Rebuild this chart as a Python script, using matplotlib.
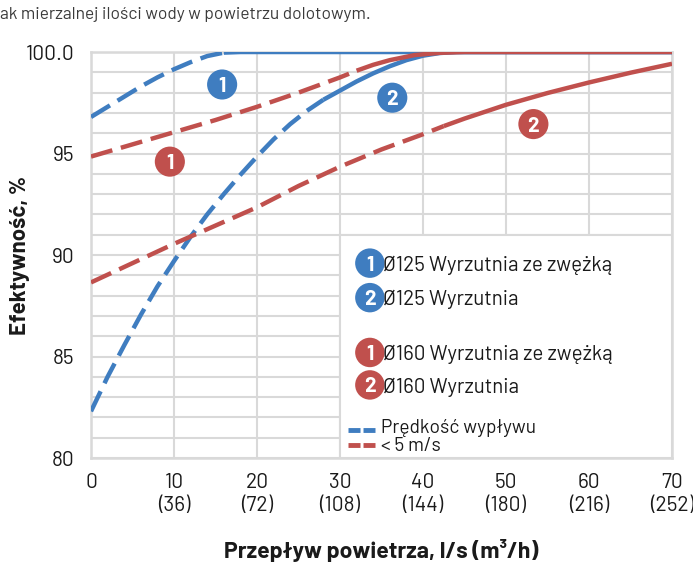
import matplotlib.pyplot as plt
from matplotlib.patches import Rectangle
from matplotlib.ticker import MultipleLocator

plt.rcParams['font.family'] = ['Barlow', 'DejaVu Sans']
plt.rcParams['font.stretch'] = 'condensed'

BLUE = '#3F7DC0'
RED = '#C0504D'
GRID = '#D9D9D9'
INK = '#1a1a1a'

# Ø125 Wyrzutnia ze zwężką (1, niebieska)
b1_dash_x = [0, 2, 4, 6, 8, 10, 12, 14, 16]
b1_dash_y = [96.8, 97.3, 97.8, 98.3, 98.75, 99.15, 99.5, 99.8, 99.97]
b1_solid_x = [16, 18, 70]
b1_solid_y = [99.97, 100, 100]

# Ø125 Wyrzutnia (2, niebieska)
b2_dash_x = [0, 2, 4, 6, 8, 10, 12, 14, 16, 18, 20, 22, 24, 26, 28]
b2_dash_y = [82.3, 84.0, 85.55, 87.05, 88.45, 89.7, 90.9, 92.0, 93.0, 93.95,
             94.85, 95.7, 96.45, 97.1, 97.65]
b2_solid_x = [28, 30, 32, 34, 36, 38, 40, 42, 44, 70]
b2_solid_y = [97.65, 98.1, 98.55, 98.95, 99.3, 99.6, 99.82, 99.95, 100, 100]

# Ø160 Wyrzutnia ze zwężką (1, czerwona)
r1_dash_x = [0, 5, 10, 15, 20, 25, 30, 32]
r1_dash_y = [94.85, 95.45, 96.05, 96.65, 97.3, 98.0, 98.75, 99.08]
r1_solid_x = [32, 34, 36, 39, 42, 45, 70]
r1_solid_y = [99.08, 99.37, 99.6, 99.85, 99.96, 100, 100]

# Ø160 Wyrzutnia (2, czerwona)
r2_dash_x = [0, 5, 10, 15, 20, 25, 30, 35, 40, 42.5]
r2_dash_y = [88.65, 89.6, 90.55, 91.45, 92.35, 93.4, 94.35, 95.2, 95.95, 96.35]
r2_solid_x = [42.5, 45, 50, 55, 60, 65, 70]
r2_solid_y = [96.35, 96.72, 97.4, 97.98, 98.5, 98.98, 99.42]

# numbered circles on curves: (x, y, label, colour)
badges = [(15.8, 98.4, '1', BLUE), (36.3, 97.75, '2', BLUE),
          (9.5, 94.6, '1', RED), (53.3, 96.45, '2', RED)]

x_ticks = [0, 10, 20, 30, 40, 50, 60, 70]
x_labels = ['0', '10\n(36)', '20\n(72)', '30\n(108)', '40\n(144)',
            '50\n(180)', '60\n(216)', '70\n(252)']
y_ticks = [80, 85, 90, 95, 100]
y_labels = ['80', '85', '90', '95', '100.0']

legend_items = [(89.6, '1', BLUE, 'Ø125 Wyrzutnia ze zwężką'),
                (87.9, '2', BLUE, 'Ø125 Wyrzutnia'),
                (85.2, '1', RED, 'Ø160 Wyrzutnia ze zwężką'),
                (83.6, '2', RED, 'Ø160 Wyrzutnia')]

fig = plt.figure(figsize=(6.93, 5.63), dpi=100)
ax = fig.add_axes([0.1313, 0.1865, 0.8384, 0.7211])

dash = (0, (5, 2))
lw = 3.2
for xs, ys, c in [(b1_dash_x, b1_dash_y, BLUE), (b2_dash_x, b2_dash_y, BLUE),
                  (r1_dash_x, r1_dash_y, RED), (r2_dash_x, r2_dash_y, RED)]:
    ax.plot(xs, ys, color=c, lw=lw, linestyle=dash, zorder=3)
for xs, ys, c in [(b1_solid_x, b1_solid_y, BLUE), (b2_solid_x, b2_solid_y, BLUE),
                  (r1_solid_x, r1_solid_y, RED), (r2_solid_x, r2_solid_y, RED)]:
    ax.plot(xs, ys, color=c, lw=lw, solid_capstyle='butt', zorder=3)

for x, y, t, c in badges:
    ax.scatter([x], [y], s=470, color=c, zorder=4, edgecolors='none')
    ax.text(x, y, t, color='white', fontsize=15, fontweight='bold',
            ha='center', va='center_baseline', zorder=5)

# legend panel covering the grid
ax.add_patch(Rectangle((30, 80), 40, 11, facecolor='white', edgecolor=GRID,
                       lw=1.5, zorder=1))
for y, t, c, txt in legend_items:
    ax.scatter([33.6], [y], s=450, color=c, zorder=4, edgecolors='none')
    ax.text(33.6, y, t, color='white', fontsize=15, fontweight='bold',
            ha='center', va='center_baseline', zorder=5)
    ax.text(35.2, y, txt, fontsize=14.8, color=INK, ha='left',
            va='center_baseline', zorder=5)

key_dash = (0, (2.47, 0.62))
ax.plot([31.0, 34.2], [81.38, 81.38], color=BLUE, lw=3.5, linestyle=key_dash, zorder=4)
ax.plot([31.0, 34.2], [80.64, 80.64], color=RED, lw=3.5, linestyle=key_dash, zorder=4)
ax.text(35.0, 81.6, 'Prędkość wypływu', fontsize=13.8, color=INK, ha='left',
        va='center_baseline', zorder=5)
ax.text(35.0, 80.7, '< 5 m/s', fontsize=13.8, color=INK, ha='left',
        va='center_baseline', zorder=5)

ax.set_xlim(0, 70)
ax.set_ylim(80, 100)
ax.set_xticks(x_ticks)
ax.set_xticklabels(x_labels, fontsize=15, linespacing=1.25, color=INK)
ax.set_yticks(y_ticks)
ax.set_yticklabels(y_labels, fontsize=15, color=INK)
ax.yaxis.set_minor_locator(MultipleLocator(1))
ax.tick_params(axis='both', which='both', length=0)
ax.tick_params(axis='x', pad=11)
ax.tick_params(axis='y', pad=12)
ax.set_axisbelow(True)
ax.grid(True, which='both', color=GRID, lw=1.5)
for s in ax.spines.values():
    s.set_color(GRID)
    s.set_linewidth(1.8)

ax.set_ylabel('Efektywność, %', fontsize=16, fontweight='bold', color=INK)
ax.yaxis.set_label_coords(-0.105, 0.5)
ax.set_xlabel('Przepływ powietrza, l/s (m³/h)', fontsize=16.5, fontweight='bold', color=INK)
ax.xaxis.set_label_coords(0.5, -0.2)

fig.text(0.0, 0.975, 'ak mierzalnej ilości wody w powietrzu dolotowym.', fontsize=12.5,
         color='#3a3a3a', ha='left', va='center')

fig.savefig('out.png', dpi=100)
